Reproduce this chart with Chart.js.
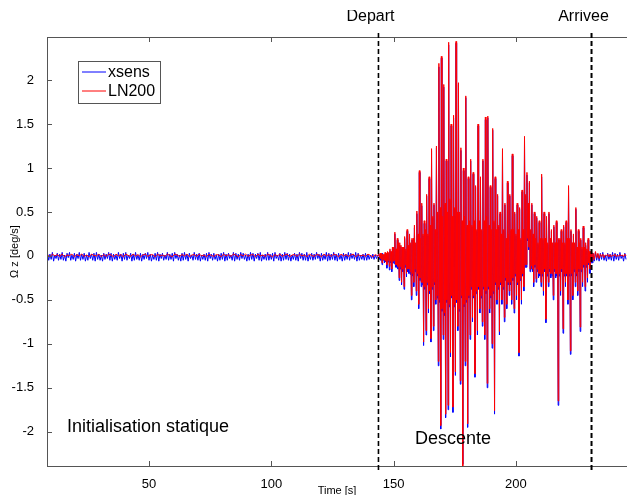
<!DOCTYPE html>
<html>
<head>
<meta charset="utf-8">
<script src="https://cdn.jsdelivr.net/npm/chart.js@4"></script>
<style>
  html, body { margin: 0; padding: 0; background: #fff; }
  #c { display: block; }
</style>
</head>
<body>
<canvas id="c" width="627" height="495"></canvas>
<script>
// axis setup
var xMin = 8.3, xMax = 245.4;
var yMin = -2.39, yMax = 2.49;
var xTicks = [50, 100, 150, 200];
var yTicks = [-2, -1.5, -1, -0.5, 0, 0.5, 1, 1.5, 2];

// event markers (time, s)
var markerNames = ['Depart', 'Arrivee'];
var markerTimes = [143.8, 230.9];

// static phase, xsens every 0.5 s from 8.5 s
var xsensStatic = [
  .03,-.05,.02,-.04,.04,-.06,.01,-.03,.03,-.05,
  .02,-.04,.04,-.05,.01,-.06,.03,-.02,.04,-.05,
  .01,-.04,.03,-.06,.02,-.03,.04,-.05,.02,-.04,
  .03,-.06,.01,-.05,.04,-.03,.02,-.05,.03,-.06,
  .04,-.04,.02,-.05,.01,-.06,.03,-.04,.02,-.03,
  .04,-.05,.03,-.06,.02,-.04,.01,-.05,.04,-.03,
  .02,-.06,.03,-.04,.04,-.05,.01,-.03,.03,-.06,
  .02,-.05,.04,-.04,.01,-.05,.03,-.06,.02,-.04,
  .03,-.03,.04,-.05,.02,-.06,.01,-.04,.03,-.05,
  .04,-.06,.02,-.03,.03,-.05,.01,-.04,.04,-.05,
  .02,-.04,.03,-.06,.04,-.03,.02,-.05,.01,-.06,
  .03,-.05,.04,-.04,.02,-.06,.03,-.03,.01,-.05,
  .04,-.04,.02,-.05,.03,-.06,.01,-.04,.02,-.05,
  .03,-.06,.04,-.03,.02,-.05,.03,-.04,.01,-.06,
  .02,-.05,.03,-.04,.04,-.06,.02,-.05,.03,-.03,
  .01,-.05,.04,-.06,.03,-.04,.02,-.05,.04,-.03,
  .03,-.04,.01,-.06,.02,-.05,.04,-.04,.03,-.06,
  .02,-.03,.03,-.05,.04,-.06,.01,-.04,.02,-.05,
  .04,-.05,.02,-.04,.03,-.06,.04,-.03,.01,-.05,
  .03,-.06,.02,-.05,.04,-.04,.03,-.05,.02,-.06,
  .01,-.04,.03,-.05,.02,-.06,.04,-.03,.03,-.05,
  .02,-.05,.04,-.06,.01,-.04,.03,-.05,.02,-.04,
  .04,-.03,.02,-.06,.03,-.05,.01,-.04,.04,-.06,
  .03,-.05,.02,-.04,.04,-.05,.02,-.06,.03,-.04,
  .01,-.06,.03,-.05,.02,-.04,.04,-.05,.03,-.03,
  .02,-.04,.04,-.06,.03,-.05,.01,-.04,.02,-.05,
  .03,-.05,.02,-.04,.01,-.03,.02,-.04,.01,-.03,
  .01
];

// static phase, LN200 every 1 s from 8.5 s
var ln200Static = [
  .01,-.01,.02,0,.015,-.005,.02,-.01,.01,.005,
  .02,-.01,.015,0,.02,-.005,.01,-.01,.02,.005,
  0,.02,-.01,.015,-.005,.02,.01,-.01,.02,0,
  .015,-.01,.02,.005,-.005,.02,0,.015,-.01,.01,
  .02,-.005,.01,.015,-.01,.02,0,.01,-.005,.02,
  .005,-.01,.02,.01,-.005,.015,0,.02,-.01,.01,
  .015,-.005,.02,0,.01,-.01,.02,.005,-.005,.015,
  .01,-.01,.02,0,.015,-.005,.02,.01,-.01,.015,
  0,.02,-.005,.01,.015,-.01,.02,0,.01,-.005,
  .02,.005,-.01,.015,0,.02,-.005,.01,.02,-.01,
  .01,.015,-.005,.02,0,.01,-.01,.02,.005,-.005,
  .015,.01,-.01,.02,0,.015,-.005,.02,.01,-.01,
  .02,0,.015,-.005,.01,.02,-.01,.015,0,.01,
  -.005,.02,.005,-.01,.015,0
];

// descent, every 0.25 s from 144 s (four values = one second)
var xsensDescent = [
  .01,-.04,.02,-.05,  .02,-.1,.03,-.05,  .01,-.08,.02,-.07,  .02,-.14,.03,-.07,
  .03,-.16,.06,-.08,  .04,-.18,.08,-.08, .08,-.09,.25,-.13,  .06,-.13,.18,-.15,
  .13,-.28,.12,-.15,  .1,-.33,.08,-.18,  .08,-.38,.2,-.13,   .06,-.24,.28,-.18,
  .1,-.2,.22,-.21,    .13,-.5,.18,-.23,  .18,-.35,.32,-.18,  .13,-.45,.48,-.23,
  .23,-.6,.95,-.28,   .18,-.35,.57,-.33, .23,-1.02,.37,-.38, .28,-.9,.68,-.33,
  .23,-.65,.88,-.43,  .33,-.98,1.2,-.38, .43,-.85,.58,-.33,  .28,-.55,1.23,-.48,
  .48,-1.25,2.15,-.53, .53,-1.97,2.25,-.63, .43,-.95,1.92,-.68, .58,-1.84,1.08,-.53,
  .48,-1.75,2.4,-.58, .63,-1.15,1.48,-.48, .43,-1.78,1.57,-.58, .53,-1.36,2.42,-.53,
  .48,-.85,1.95,-.63, .48,-1.46,1.2,-.48, .38,-2.37,.97,-.58, .43,-1.25,1.8,-.53,
  .33,-1.95,.88,-.48, .38,-.95,1.08,-.38, .33,-.75,.93,-.48,  .38,-1.38,.78,-.43,
  .28,-.9,1.48,-.38,  .38,-.65,.88,-.48, .28,-.8,1.08,-.38,  .38,-.95,1.55,-.43,
  .43,-1.5,1.57,-.38, .33,-.65,.78,-.48, .28,-1.05,1.43,-.43, .38,-1.8,.88,-.33,
  .28,-.55,.68,-.38,  .33,-.9,.48,-.33,  .23,-.55,1.2,-.38,  .28,-.75,.58,-.28,
  .18,-.6,.83,-.33,   .23,-.45,.68,-.33, .28,-.55,1.14,-.28, .28,-.65,.48,-.23,
  .23,-.5,.58,-.33,   .28,-1.14,.53,-.28, .18,-.55,.73,-.23, .28,-.4,1.33,-.13,
  .68,-.13,.92,.17,   .58,.07,.83,-.18,  .28,-.15,.58,-.18,  .23,-.35,.48,-.13,
  .18,-.3,.43,-.18,   .13,-.25,.38,-.23, .18,-.35,.9,-.23,   .18,-.45,.48,-.18,
  .18,-.76,.43,-.23,  .13,-.35,.48,-.18, .18,-.25,.28,-.23,  .13,-.5,.33,-.18,
  .13,-.25,.38,-.23,  .13,-1.7,.18,-.23, .18,-.45,.28,-.18,  .13,-.88,.33,-.23,
  .13,-.35,.38,-.23,  .18,-.55,.78,-.23, .18,-1.12,.28,-.23, .13,-.5,.23,-.18,
  .13,-.35,.53,-.23,  .08,-.45,.28,-.18, .13,-.86,.18,-.18,  .08,-.35,.32,-.13,
  .08,-.4,.12,-.13,   .06,-.3,.18,-.1,   .03,-.2,.03,-.08,   .03,-.08
];
var ln200Descent = [
  .02,-.02,.03,-.03,  .03,-.08,.02,-.04, .02,-.05,.04,-.06,  .03,-.1,.05,-.05,
  .04,-.12,.08,-.06,  .05,-.15,.1,-.06,  .1,-.05,.27,-.1,    .08,-.1,.2,-.12,
  .15,-.25,.15,-.12,  .12,-.3,.1,-.15,   .1,-.35,.22,-.1,    .08,-.2,.3,-.15,
  .12,-.15,.25,-.18,  .15,-.45,.2,-.2,   .2,-.3,.35,-.15,    .15,-.4,.51,-.2,
  .25,-.55,.97,-.25,  .2,-.3,.6,-.3,     .25,-.98,.4,-.35,   .3,-.85,.7,-.3,
  .25,-.6,.9,-.4,     .35,-.94,1.22,-.35, .45,-.8,.6,-.3,    .3,-.5,1.25,-.45,
  .5,-1.2,2.19,-.5,   .55,-1.93,2.27,-.6, .45,-.9,1.95,-.65, .6,-1.8,1.1,-.5,
  .5,-1.7,2.43,-.55,  .65,-1.1,1.5,-.45, .45,-1.72,1.6,-.55, .55,-1.32,2.44,-.5,
  .5,-.8,1.97,-.6,    .5,-1.42,1.23,-.45, .4,-2.39,1.0,-.55, .45,-1.2,1.82,-.5,
  .35,-1.91,.9,-.45,  .4,-.9,1.1,-.35,   .35,-.7,.95,-.45,   .4,-1.34,.8,-.4,
  .3,-.85,1.5,-.35,   .4,-.6,.9,-.45,    .3,-.75,1.1,-.35,   .4,-.9,1.58,-.4,
  .45,-1.45,1.59,-.35, .35,-.6,.8,-.45,  .3,-1.0,1.45,-.4,   .4,-1.76,.9,-.3,
  .3,-.5,.7,-.35,     .35,-.86,.5,-.3,   .25,-.5,1.22,-.35,  .3,-.7,.6,-.25,
  .2,-.55,.85,-.3,    .25,-.4,.7,-.3,    .3,-.5,1.16,-.25,   .3,-.6,.5,-.2,
  .25,-.45,.6,-.3,    .3,-1.1,.55,-.25,  .2,-.5,.75,-.2,     .3,-.35,1.36,-.1,
  .7,-.1,.95,.2,      .6,.1,.85,-.15,    .3,-.11,.6,-.15,    .25,-.3,.5,-.1,
  .2,-.26,.45,-.15,   .15,-.2,.4,-.2,    .2,-.3,.93,-.2,     .2,-.4,.5,-.15,
  .2,-.72,.45,-.2,    .15,-.3,.5,-.15,   .2,-.2,.3,-.2,      .15,-.45,.35,-.15,
  .15,-.2,.4,-.2,     .15,-1.65,.2,-.2,  .2,-.4,.3,-.15,     .15,-.83,.35,-.2,
  .15,-.3,.4,-.2,     .2,-.5,.8,-.2,     .2,-1.08,.3,-.2,    .15,-.45,.25,-.15,
  .15,-.3,.55,-.2,    .1,-.4,.3,-.15,    .15,-.81,.2,-.15,   .1,-.3,.34,-.1,
  .1,-.35,.15,-.1,    .08,-.25,.2,-.08,  .05,-.15,.05,-.05,  .04,-.05
];

// after arrival, every 0.5 s from 231.5 s
var xsensEnd = [
  .03,-.06,.04,-.05,.02,-.06,.03,-.04,.04,-.05,
  .01,-.06,.03,-.04,.02,-.05,.04,-.06,.03,-.04,
  .02,-.05,.04,-.03,.01,-.06,.03,-.04
];
var ln200End = [
  .03,-.04,.05,-.02,.03,-.03,.02,-.01,.02,-.02,
  .01,0,.02,-.01,.015,-.01,.01,0,.02,-.01,
  .01,-.005,.015,0,.01,-.01,.02,0
];

function toPoints(start, step, vals) {
  return vals.map(function (v, i) { return { x: start + i * step, y: v }; });
}

var xsensData = toPoints(8.5, 0.5, xsensStatic)
  .concat(toPoints(144, 0.25, xsensDescent), toPoints(231.5, 0.5, xsensEnd));
var ln200Data = toPoints(8.5, 1, ln200Static)
  .concat(toPoints(144, 0.25, ln200Descent), toPoints(231.5, 0.5, ln200End));

var FONT = '"Liberation Sans", Arial, sans-serif';
var AXIS = '#555';
var BLUE = '#0000ff', RED = '#ff0000';

// matlab-like box, inward ticks, markers, legend and notes
var overlay = {
  id: 'overlay',
  afterDraw: function (chart) {
    var ctx = chart.ctx, a = chart.chartArea;
    var sx = chart.scales.x, sy = chart.scales.y;
    ctx.save();
    ctx.strokeStyle = AXIS;
    ctx.lineWidth = 1;
    ctx.beginPath();
    ctx.moveTo(a.left + 0.5, a.top); ctx.lineTo(a.left + 0.5, a.bottom + 1);
    ctx.moveTo(a.left, a.bottom + 0.5); ctx.lineTo(a.right, a.bottom + 0.5);
    ctx.moveTo(a.left, a.top + 0.5); ctx.lineTo(a.right, a.top + 0.5);
    xTicks.forEach(function (v) {
      var px = Math.round(sx.getPixelForValue(v)) + 0.5;
      ctx.moveTo(px, a.bottom); ctx.lineTo(px, a.bottom - 5);
      ctx.moveTo(px, a.top); ctx.lineTo(px, a.top + 5);
    });
    yTicks.forEach(function (v) {
      var py = Math.round(sy.getPixelForValue(v)) + 0.5;
      ctx.moveTo(a.left, py); ctx.lineTo(a.left + 5, py);
    });
    ctx.stroke();

    // dashed event lines
    ctx.strokeStyle = '#000';
    ctx.setLineDash([5, 3]);
    markerTimes.forEach(function (t, i) {
      var px = sx.getPixelForValue(t);
      ctx.lineWidth = i === 0 ? 1.6 : 2;
      ctx.beginPath();
      ctx.moveTo(px, a.top - 4);
      ctx.lineTo(px, a.bottom + 7);
      ctx.stroke();
    });
    ctx.setLineDash([]);

    // event names (top of the figure is cropped)
    ctx.save();
    ctx.beginPath();
    ctx.rect(0, 10, chart.width, 30);
    ctx.clip();
    ctx.fillStyle = '#000';
    ctx.font = '16px ' + FONT;
    ctx.textAlign = 'center';
    ctx.textBaseline = 'alphabetic';
    markerTimes.forEach(function (t, i) {
      ctx.fillText(markerNames[i], sx.getPixelForValue(t) - 8, 21);
    });
    ctx.restore();

    // legend
    var lx = 78, ly = 61, lw = 82, lh = 42;
    var cols = [BLUE, RED];
    ctx.fillStyle = '#fff';
    ctx.fillRect(lx, ly, lw, lh);
    ctx.strokeStyle = AXIS;
    ctx.lineWidth = 1;
    ctx.strokeRect(lx + 0.5, ly + 0.5, lw, lh);
    ctx.font = '16px ' + FONT;
    ctx.textAlign = 'left';
    ctx.textBaseline = 'middle';
    [0, 1].forEach(function (k) {
      var yy = ly + 11 + k * 19;
      ctx.strokeStyle = cols[k];
      ctx.beginPath();
      ctx.moveTo(lx + 4, yy);
      ctx.lineTo(lx + 28, yy);
      ctx.stroke();
      ctx.fillStyle = '#000';
      ctx.fillText(chart.data.datasets[k].label, lx + 30, yy + 1);
    });

    // notes
    ctx.font = '18px ' + FONT;
    ctx.textBaseline = 'alphabetic';
    ctx.fillText('Initialisation statique', 67, 432);
    ctx.fillText('Descente', 415, 444);

    // axis titles
    ctx.font = '11px ' + FONT;
    ctx.textAlign = 'center';
    ctx.textBaseline = 'top';
    ctx.fillText('Time [s]', (a.left + a.right) / 2, 485);
    ctx.translate(15, (a.top + a.bottom) / 2);
    ctx.rotate(-Math.PI / 2);
    ctx.textBaseline = 'middle';
    ctx.fillText('\u03A9 z [deg/s]', 0, 0);
    ctx.restore();
  }
};

new Chart(document.getElementById('c'), {
  type: 'line',
  data: {
    datasets: [
      { label: 'xsens', data: xsensData, borderColor: BLUE, borderWidth: 1, pointRadius: 0, tension: 0, order: 2 },
      { label: 'LN200', data: ln200Data, borderColor: RED, borderWidth: 1, pointRadius: 0, tension: 0, order: 1 }
    ]
  },
  options: {
    responsive: false,
    devicePixelRatio: 1,
    animation: false,
    events: [],
    layout: { padding: { top: 37, left: 0, right: 0, bottom: 0 } },
    plugins: { legend: { display: false }, tooltip: { enabled: false } },
    scales: {
      x: {
        type: 'linear', min: xMin, max: xMax,
        grid: { display: false }, border: { display: false },
        afterBuildTicks: function (s) { s.ticks = xTicks.map(function (v) { return { value: v }; }); },
        afterFit: function (s) { s.height = 29; },
        ticks: { color: '#000', font: { size: 13, family: FONT }, padding: 3, maxRotation: 0,
          callback: function (v) { return String(v); } }
      },
      y: {
        type: 'linear', min: yMin, max: yMax,
        grid: { display: false }, border: { display: false },
        afterBuildTicks: function (s) { s.ticks = yTicks.map(function (v) { return { value: v }; }); },
        afterFit: function (s) { s.width = 47; },
        ticks: { color: '#000', font: { size: 13, family: FONT }, padding: 5,
          callback: function (v) { return String(v); } }
      }
    }
  },
  plugins: [overlay]
});
</script>
</body>
</html>
